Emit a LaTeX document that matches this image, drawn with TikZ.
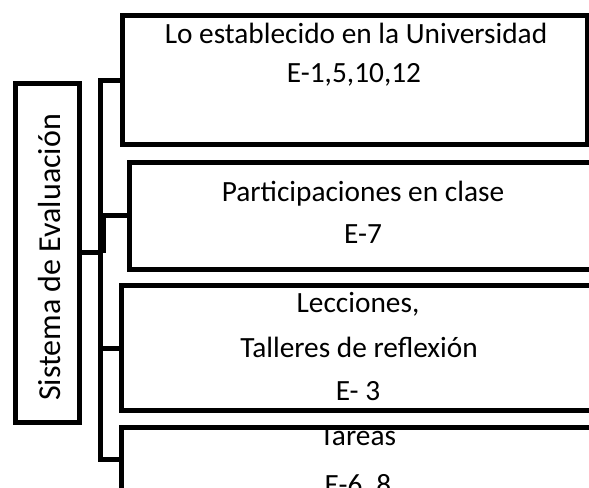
\documentclass[tikz,border=0pt]{standalone}
\usepackage{fontspec}
\setmainfont{Carlito}
\begin{document}
\begin{tikzpicture}[x=0.75pt,y=-0.75pt,
  box/.style={draw, line width=3.75pt, rectangle, inner sep=0pt, outer sep=0pt},
  txt/.style={anchor=base, font=\fontsize{22}{26}\selectfont, inner sep=0pt},
  bigtxt/.style={anchor=base, rotate=90, font=\fontsize{24}{28}\selectfont, inner sep=0pt},
  conn/.style={line width=3.75pt}]
\useasboundingbox (0,0) rectangle (589,487);
\clip (0,0) rectangle (589,487);
% boxes
\node[box, minimum width=348.4pt, minimum height=96.75pt] (b1) at (354.75,80) {};
\node[box, minimum width=348.75pt, minimum height=79.875pt] (b2) at (362,215.75) {};
\node[box, minimum width=354.75pt, minimum height=93.75pt] (b3) at (358,348) {};
\node[box, minimum width=354.75pt, minimum height=48.75pt] (b4) at (358,459.5) {};
\node[box, minimum width=48pt, minimum height=254.625pt] (sis) at (47,252.75) {};
% texts
\node[bigtxt] (tsis) at (60,257.5) {Sistema de Evaluación};
\node[txt] (t1a) at (356,43) {Lo establecido en la Universidad};
\node[txt] (t1b) at (354,82) {E-1,5,10,12};
\node[txt] (t2a) at (363,201) {Participaciones en clase};
\node[txt] (t2b) at (363,243) {E-7};
\node[txt] (t3a) at (358,312) {Lecciones,};
\node[txt] (t3b) at (359,357) {Talleres de reflexión};
\node[txt] (t3c) at (358,400) {E- 3};
\node[txt] (t4a) at (358,445) {Tareas};
\node[txt] (t4b) at (358,494) {E-6, 8};
% connectors
\coordinate (bus) at (100.5,252.75);
\draw[conn] (sis.east) -- (bus);
\draw[conn] (bus) |- (b1.west);
\draw[conn] ([xshift=2.25pt]bus) |- (b2.west);
\draw[conn] (bus) |- (b3.west);
\draw[conn] (bus) |- (b4.west);
\end{tikzpicture}
\end{document}
